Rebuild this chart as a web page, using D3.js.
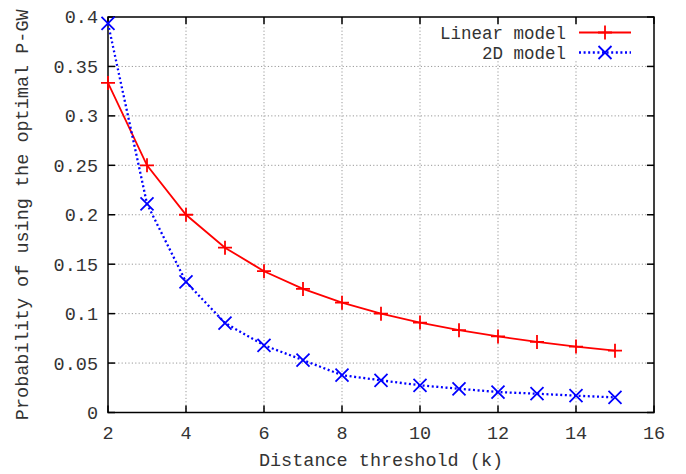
<!DOCTYPE html>
<html><head><meta charset="utf-8">
<script src="https://cdn.jsdelivr.net/npm/d3@7"></script>
<style>body{margin:0;background:#fff}svg{display:block}text{font-family:"Liberation Mono","DejaVu Sans Mono",monospace;fill:#333}</style>
</head><body><svg id="c" width="686" height="474"></svg>
<script>
const kValues = [2,3,4,5,6,7,8,9,10,11,12,13,14,15];
const linearModel = [0.3333,0.25,0.2,0.1667,0.1429,0.125,0.1111,0.1,0.0909,0.0833,0.0769,0.0714,0.0667,0.0625];
const model2D = [0.3935,0.211,0.132,0.0905,0.068,0.053,0.0378,0.0325,0.0275,0.024,0.0207,0.019,0.017,0.0153];
const xTicks = [2,4,6,8,10,12,14,16];
const yTicks = [0,0.05,0.1,0.15,0.2,0.25,0.3,0.35,0.4];
const yTickLabels = ["0","0.05","0.1","0.15","0.2","0.25","0.3","0.35","0.4"];
const seriesNames = ["Linear model","2D model"];

const svg = d3.select("#c");
const L=108,R=654,T=17,B=412.5;
const x = d3.scaleLinear().domain([2,16]).range([L,R]);
const y = d3.scaleLinear().domain([0,0.4]).range([B,T]);
const fs = 18.5, lfs = 17.5;

// grid
const g = svg.append("g");
g.selectAll(".gx").data(xTicks.slice(1,-1)).enter().append("line")
 .attr("x1",d=>x(d)).attr("x2",d=>x(d)).attr("y1",T).attr("y2",B)
 .attr("stroke","#999").attr("stroke-width",1).attr("stroke-dasharray","1.2,2.2");
g.selectAll(".gy").data(yTicks.slice(1,-1)).enter().append("line")
 .attr("x1",L).attr("x2",R).attr("y1",d=>y(d)).attr("y2",d=>y(d))
 .attr("stroke","#999").attr("stroke-width",1).attr("stroke-dasharray","1.2,2.2");

// legend background
svg.append("rect").attr("x",424).attr("y",25).attr("width",R-424-1).attr("height",36).attr("fill","#fff");

// ticks (inside, all four sides)
const tl=7;
const tk = svg.append("g").attr("stroke","#000").attr("stroke-width",1.5);
xTicks.forEach(d=>{
  tk.append("line").attr("x1",x(d)).attr("x2",x(d)).attr("y1",B).attr("y2",B-tl);
  tk.append("line").attr("x1",x(d)).attr("x2",x(d)).attr("y1",T).attr("y2",T+tl);
});
yTicks.forEach(d=>{
  tk.append("line").attr("x1",L).attr("x2",L+tl).attr("y1",y(d)).attr("y2",y(d));
  tk.append("line").attr("x1",R).attr("x2",R-tl).attr("y1",y(d)).attr("y2",y(d));
});
svg.append("rect").attr("x",L).attr("y",T).attr("width",R-L).attr("height",B-T)
 .attr("fill","none").attr("stroke","#000").attr("stroke-width",1.5);

// tick labels
svg.selectAll(".xl").data(xTicks).enter().append("text")
 .attr("x",d=>x(d)).attr("y",B+26).attr("text-anchor","middle").attr("font-size",fs).text(d=>d);
svg.selectAll(".yl").data(yTicks).enter().append("text")
 .attr("x",L-10).attr("y",d=>y(d)).attr("dy","0.35em").attr("text-anchor","end").attr("font-size",fs)
 .text((d,i)=>yTickLabels[i]);

// axis titles
svg.append("text").attr("x",(L+R)/2).attr("y",466).attr("text-anchor","middle").attr("font-size",fs).text("Distance threshold (k)");
svg.append("text").attr("transform",`translate(28,${(T+B)/2}) rotate(-90)`).attr("text-anchor","middle").attr("font-size",fs)
 .text("Probability of using the optimal P-GW");

// series
const lin = kValues.map((k,i)=>[k,linearModel[i]]);
const d2 = kValues.map((k,i)=>[k,model2D[i]]);
const line = d3.line().x(d=>x(d[0])).y(d=>y(d[1]));
svg.append("path").attr("d",line(lin)).attr("fill","none").attr("stroke","#f00").attr("stroke-width",1.8);
svg.append("path").attr("d",line(d2)).attr("fill","none").attr("stroke","#00f").attr("stroke-width",2.3).attr("stroke-dasharray","2,2.6");

const plus=(sel,cx,cy,s)=>{sel.append("path").attr("d",`M${cx-s},${cy}H${cx+s}M${cx},${cy-s}V${cy+s}`).attr("stroke","#f00").attr("stroke-width",1.8).attr("fill","none");};
const cross=(sel,cx,cy,s)=>{sel.append("path").attr("d",`M${cx-s},${cy-s}L${cx+s},${cy+s}M${cx-s},${cy+s}L${cx+s},${cy-s}`).attr("stroke","#00f").attr("stroke-width",1.8).attr("fill","none");};
const mk = svg.append("g");
lin.forEach(d=>plus(mk,x(d[0]),y(d[1]),7));
d2.forEach(d=>cross(mk,x(d[0]),y(d[1]),6.5));

// legend
const ly1 = 32.5, ly2 = 52.5;
const lg = svg.append("g");
lg.append("text").attr("x",566).attr("y",ly1).attr("dy","0.35em").attr("text-anchor","end").attr("font-size",lfs).text(seriesNames[0]);
lg.append("text").attr("x",566).attr("y",ly2).attr("dy","0.35em").attr("text-anchor","end").attr("font-size",lfs).text(seriesNames[1]);
lg.append("line").attr("x1",579).attr("x2",631).attr("y1",ly1).attr("y2",ly1).attr("stroke","#f00").attr("stroke-width",1.8);
plus(lg,605,ly1,7);
lg.append("line").attr("x1",579).attr("x2",631).attr("y1",ly2).attr("y2",ly2).attr("stroke","#00f").attr("stroke-width",2.3).attr("stroke-dasharray","2,2.6");
cross(lg,605,ly2,6.5);
</script></body></html>
